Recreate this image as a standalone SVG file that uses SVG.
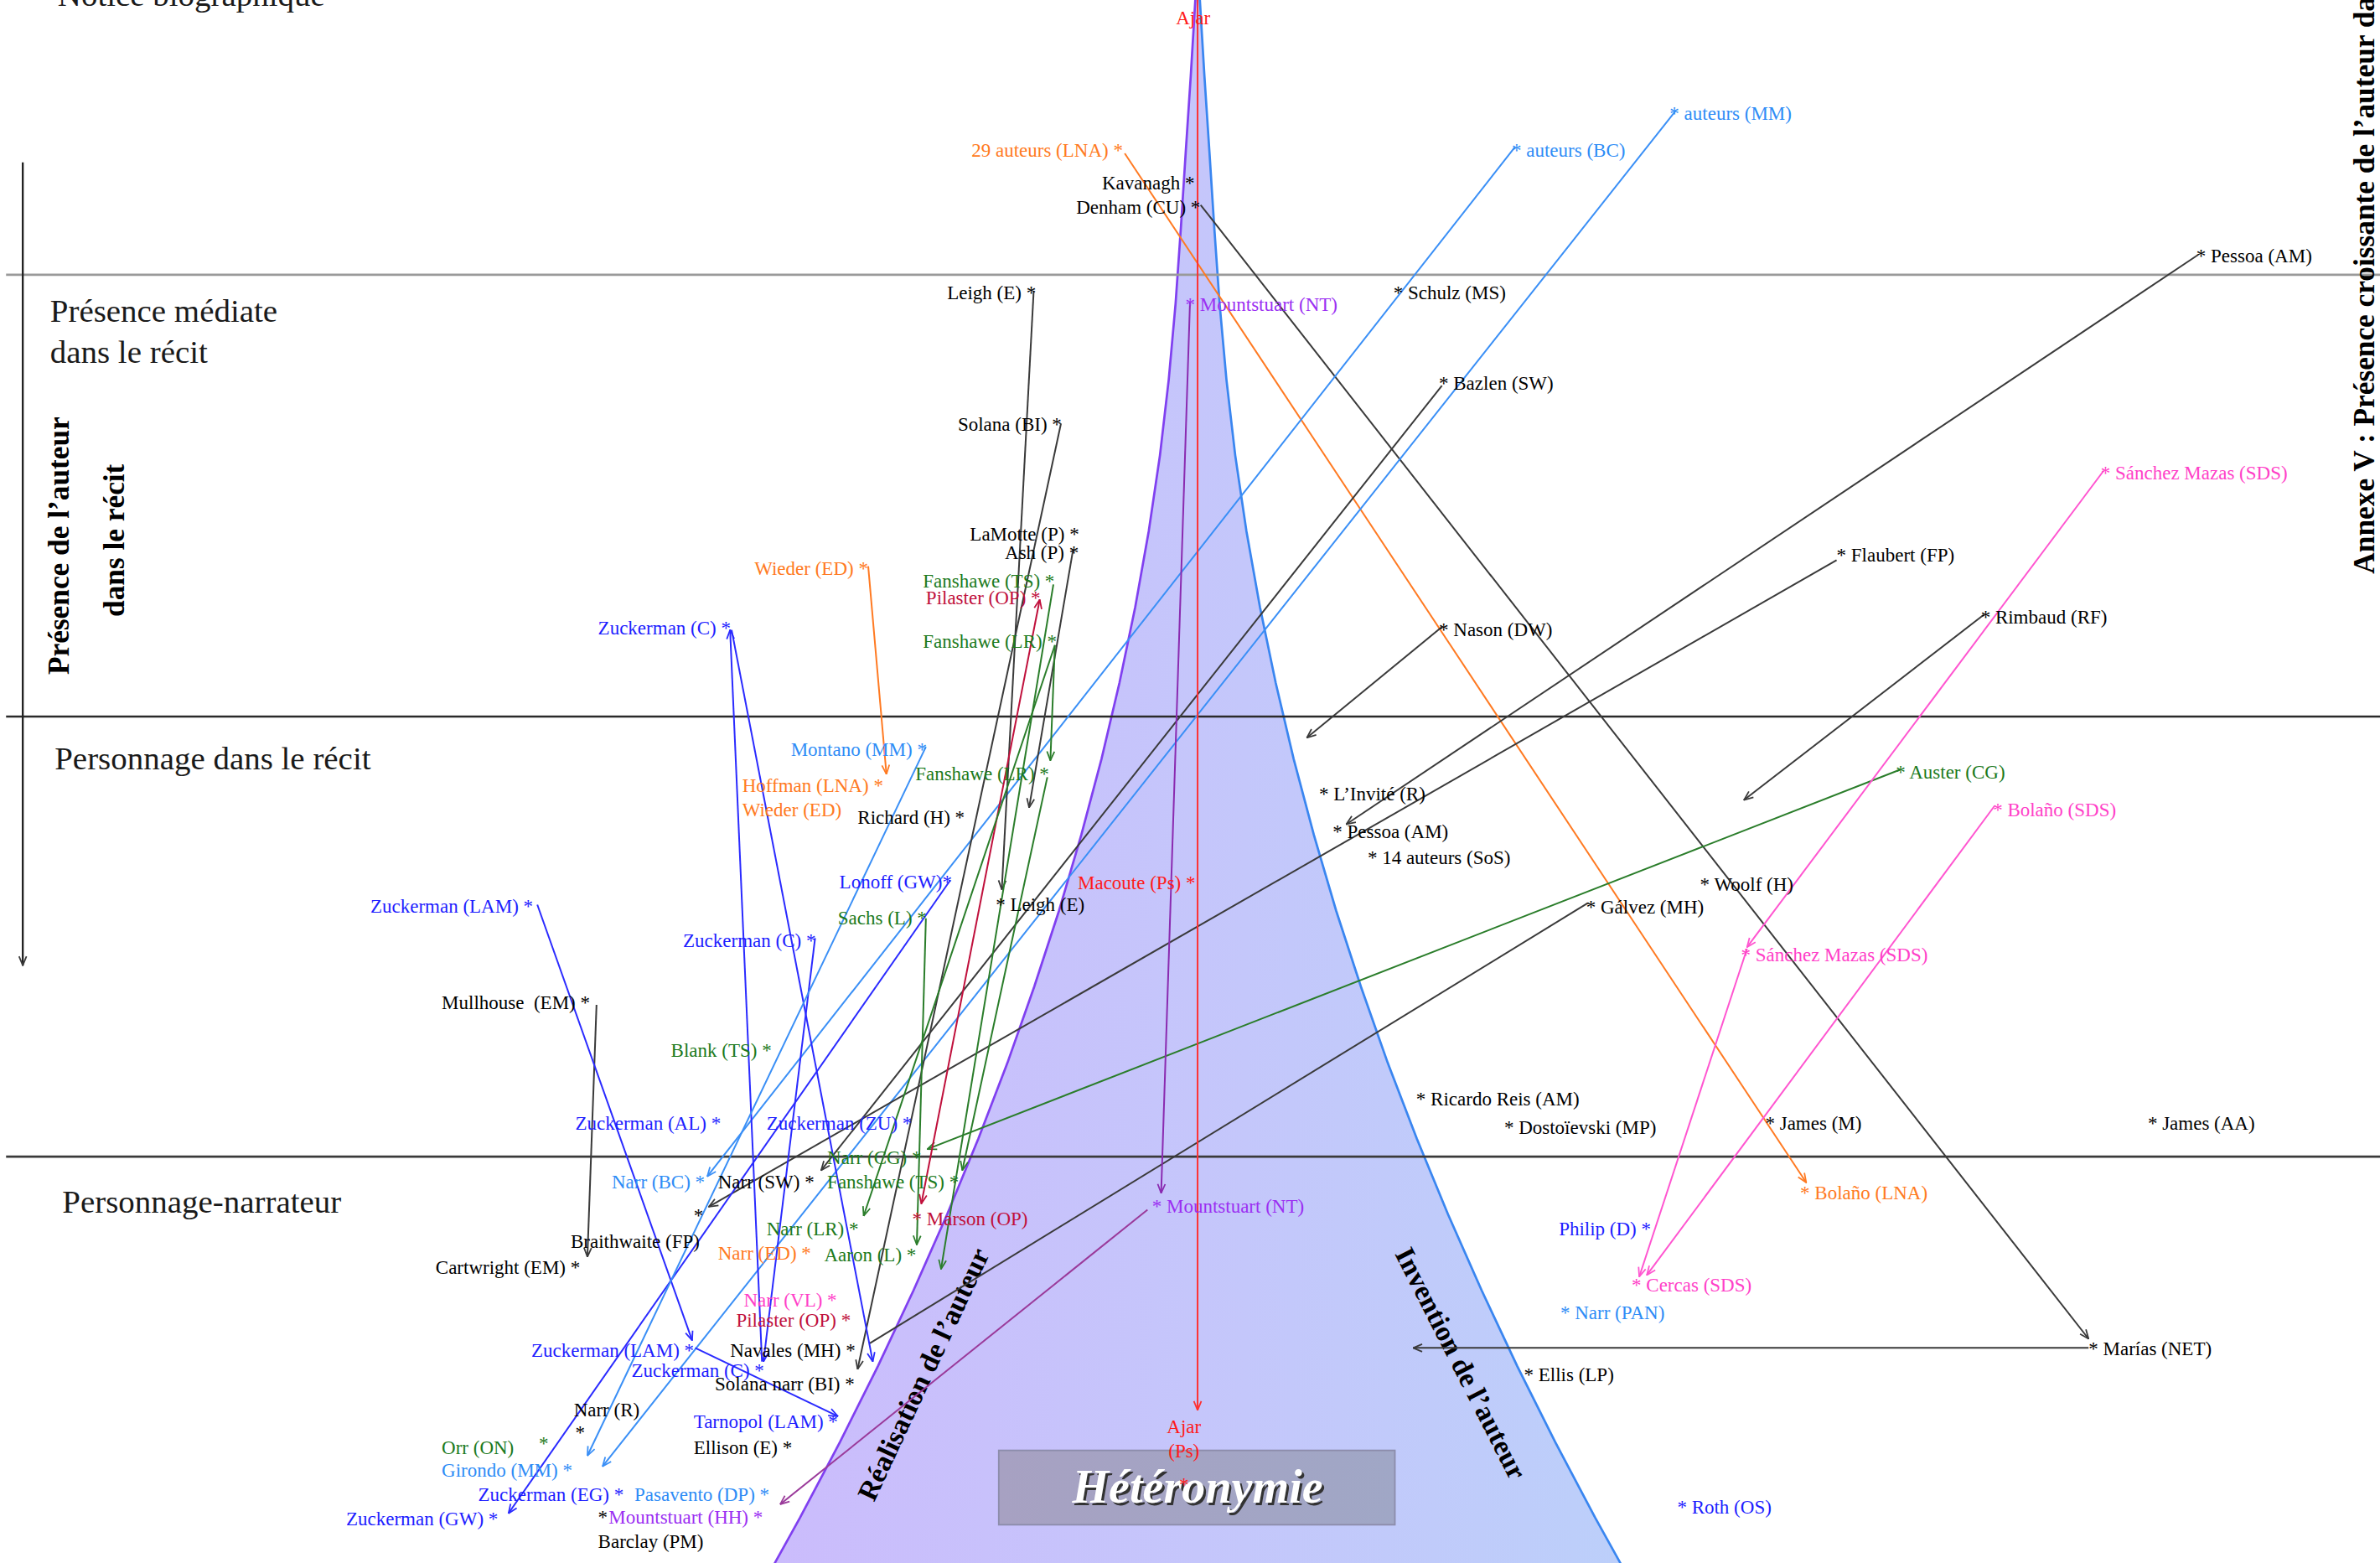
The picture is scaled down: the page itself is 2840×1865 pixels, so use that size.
<svg xmlns="http://www.w3.org/2000/svg" width="2840" height="1865" viewBox="0 0 2840 1865">
<style>
.t{font-family:"Liberation Serif","Times New Roman",serif;font-size:12.7px}
.sec{font-family:"Liberation Serif","Times New Roman",serif;font-size:21.5px;fill:#1a1a1a}
.vt{font-family:"Liberation Serif","Times New Roman",serif;font-weight:bold;font-size:19.5px;fill:#000}
.ob{font-family:"Liberation Serif","Times New Roman",serif;font-weight:bold;font-size:18.6px;fill:#000}
.het{font-family:"Liberation Serif","Times New Roman",serif;font-weight:bold;font-style:italic;font-size:31px}
.k{fill:#000}.or{fill:#ff7a22}.lb{fill:#2e8cf6}.bl{fill:#1d1dff}.gr{fill:#1c7a1c}.pk{fill:#ff3fc8}.pu{fill:#9b2ff2}.cr{fill:#c0103c}.rd{fill:#ff1a1a}
.c{fill:none;stroke-width:1.1}
.sk{stroke:#3a3a3a}.so{stroke:#ff7a22}.slb{stroke:#3a8ff6}.sbl{stroke:#2a2aff}.sg{stroke:#2a7d2a}.sp{stroke:#ff55d0}.spu{stroke:#8a2ab0}.spu2{stroke:#9a3a9a}.sr{stroke:#ff3030}.scr{stroke:#c0103c}
</style>
<defs>
<linearGradient id="cone" gradientUnits="userSpaceOnUse" x1="510" y1="0" x2="1068" y2="0">
<stop offset="0" stop-color="#cbbcfc"/><stop offset="0.5" stop-color="#c5c6fb"/><stop offset="1" stop-color="#bccffa"/>
</linearGradient>
<linearGradient id="box" x1="0" y1="0" x2="1" y2="0">
<stop offset="0" stop-color="#a7a1c2"/><stop offset="1" stop-color="#a0a7c6"/>
</linearGradient>
<marker id="ak" viewBox="0 0 10 10" refX="9.5" refY="5" markerWidth="7" markerHeight="7" markerUnits="userSpaceOnUse" orient="auto-start-reverse"><path d="M1,1.5 L9.5,5 L1,8.5" fill="none" stroke="#3a3a3a" stroke-width="1.4"/></marker>
<marker id="ao" viewBox="0 0 10 10" refX="9.5" refY="5" markerWidth="7" markerHeight="7" markerUnits="userSpaceOnUse" orient="auto-start-reverse"><path d="M1,1.5 L9.5,5 L1,8.5" fill="none" stroke="#ff7a22" stroke-width="1.4"/></marker>
<marker id="alb" viewBox="0 0 10 10" refX="9.5" refY="5" markerWidth="7" markerHeight="7" markerUnits="userSpaceOnUse" orient="auto-start-reverse"><path d="M1,1.5 L9.5,5 L1,8.5" fill="none" stroke="#3a8ff6" stroke-width="1.4"/></marker>
<marker id="abl" viewBox="0 0 10 10" refX="9.5" refY="5" markerWidth="7" markerHeight="7" markerUnits="userSpaceOnUse" orient="auto-start-reverse"><path d="M1,1.5 L9.5,5 L1,8.5" fill="none" stroke="#2a2aff" stroke-width="1.4"/></marker>
<marker id="ag" viewBox="0 0 10 10" refX="9.5" refY="5" markerWidth="7" markerHeight="7" markerUnits="userSpaceOnUse" orient="auto-start-reverse"><path d="M1,1.5 L9.5,5 L1,8.5" fill="none" stroke="#2a7d2a" stroke-width="1.4"/></marker>
<marker id="ap" viewBox="0 0 10 10" refX="9.5" refY="5" markerWidth="7" markerHeight="7" markerUnits="userSpaceOnUse" orient="auto-start-reverse"><path d="M1,1.5 L9.5,5 L1,8.5" fill="none" stroke="#ff55d0" stroke-width="1.4"/></marker>
<marker id="apu" viewBox="0 0 10 10" refX="9.5" refY="5" markerWidth="7" markerHeight="7" markerUnits="userSpaceOnUse" orient="auto-start-reverse"><path d="M1,1.5 L9.5,5 L1,8.5" fill="none" stroke="#8a2ab0" stroke-width="1.4"/></marker>
<marker id="apu2" viewBox="0 0 10 10" refX="9.5" refY="5" markerWidth="7" markerHeight="7" markerUnits="userSpaceOnUse" orient="auto-start-reverse"><path d="M1,1.5 L9.5,5 L1,8.5" fill="none" stroke="#9a3a9a" stroke-width="1.4"/></marker>
<marker id="ar" viewBox="0 0 10 10" refX="9.5" refY="5" markerWidth="7" markerHeight="7" markerUnits="userSpaceOnUse" orient="auto-start-reverse"><path d="M1,1.5 L9.5,5 L1,8.5" fill="none" stroke="#ff3030" stroke-width="1.4"/></marker>
<marker id="acr" viewBox="0 0 10 10" refX="9.5" refY="5" markerWidth="7" markerHeight="7" markerUnits="userSpaceOnUse" orient="auto-start-reverse"><path d="M1,1.5 L9.5,5 L1,8.5" fill="none" stroke="#c0103c" stroke-width="1.4"/></marker>
</defs>
<rect width="2840" height="1865" fill="#fff"/>
<g transform="scale(1.811224)">
<g id="cone-shape">
<polygon fill="url(#cone)" points="787.5,0 784.5,50 781.2,100 778,150 774.5,200 770,250 764.2,300 756.8,350 747.9,400 737.5,450 725.7,500 712.4,550 697.7,600 681.4,650 663.8,700 644.6,750 624,800 601.9,850 578.4,900 553.4,950 527,1000 510.3,1030 1067.7,1030 1051,1000 1024.6,950 999.6,900 976.1,850 954,800 933.4,750 914.2,700 896.6,650 880.3,600 865.6,550 852.3,500 840.5,450 830.1,400 821.2,350 813.8,300 808,250 803.5,200 800,150 796.8,100 793.5,50 790.5,0"/>
<polyline fill="none" stroke="#8040f0" stroke-width="1.5" points="787.5,0 784.5,50 781.2,100 778,150 774.5,200 770,250 764.2,300 756.8,350 747.9,400 737.5,450 725.7,500 712.4,550 697.7,600 681.4,650 663.8,700 644.6,750 624,800 601.9,850 578.4,900 553.4,950 527,1000 510.3,1030"/>
<polyline fill="none" stroke="#3a86f0" stroke-width="1.5" points="790.5,0 793.5,50 796.8,100 800,150 803.5,200 808,250 813.8,300 821.2,350 830.1,400 840.5,450 852.3,500 865.6,550 880.3,600 896.6,650 914.2,700 933.4,750 954,800 976.1,850 999.6,900 1024.6,950 1051,1000 1067.7,1030"/>
</g>
<g id="grid">
<line x1="4" y1="181" x2="1568" y2="181" stroke="#9a9a9a" stroke-width="1.6"/>
<line x1="4" y1="472" x2="1568" y2="472" stroke="#2a2a2a" stroke-width="1.4"/>
<line x1="4" y1="762" x2="1568" y2="762" stroke="#3a3a3a" stroke-width="1.6"/>
<line x1="15" y1="107" x2="15" y2="636" stroke="#222" stroke-width="1.3" marker-end="url(#ak)"/>
</g>
<g id="heteronymie">
<rect x="658" y="955.5" width="261" height="49" fill="url(#box)" stroke="#8c8cab" stroke-width="1"/>
<text class="het" x="790.5" y="991.5" text-anchor="middle" fill="#333">Hétéronymie</text>
<text class="het" x="789" y="990" text-anchor="middle" fill="#fff">Hétéronymie</text>
</g>
<g id="labels">
<text class="sec" x="38" y="4">Notice biographique</text>
<text class="sec" x="33" y="212">Présence médiate</text>
<text class="sec" x="33" y="239">dans le récit</text>
<text class="sec" x="36" y="507">Personnage dans le récit</text>
<text class="sec" x="41" y="799">Personnage-narrateur</text>
<text class="vt" transform="translate(45.5,359.5) rotate(-90)" text-anchor="middle">Présence de l’auteur</text>
<text class="vt" transform="translate(81.5,356) rotate(-90)" text-anchor="middle">dans le récit</text>
<text class="vt" transform="translate(1564,378) rotate(-90)">Annexe V : Présence croissante de l’auteur dans</text>
<text class="ob" transform="translate(614,908) rotate(-65)" text-anchor="middle">Réalisation de l’auteur</text>
<text class="ob" transform="translate(957,901) rotate(63)" text-anchor="middle">Invention de l’auteur</text>
</g>
<g id="connectors">
<path class="c so" d="M741,101 L1190,779" marker-end="url(#ao)"/>
<path class="c sk" d="M791,135 L1376,882" marker-end="url(#ak)"/>
<path class="c slb" d="M998,97 L466,775" marker-end="url(#alb)"/>
<path class="c slb" d="M1104,73 L397,966" marker-end="url(#alb)"/>
<path class="c sk" d="M1448,168 L887,543" marker-end="url(#ak)"/>
<path class="c sk" d="M1210,369 L467,795" marker-end="url(#ak)"/>
<path class="c sk" d="M950,254 L541,771" marker-end="url(#ak)"/>
<path class="c sk" d="M950,413 L861,486" marker-end="url(#ak)"/>
<path class="c sk" d="M1307,405 L1149,527" marker-end="url(#ak)"/>
<path class="c sk" d="M1046,595 L573,885"/>
<path class="c sk" d="M1376,888 L931,888" marker-end="url(#ak)"/>
<path class="c sk" d="M681,192 L660,586" marker-end="url(#ak)"/>
<path class="c sk" d="M699,279 L565,902" marker-end="url(#ak)"/>
<path class="c sk" d="M707,362 L678,532" marker-end="url(#ak)"/>
<path class="c sk" d="M393,662 L387,828" marker-end="url(#ak)"/>
<path class="c so" d="M572,373 L584,510" marker-end="url(#ao)"/>
<path class="c sg" d="M1252,507 L611,757" marker-end="url(#ag)"/>
<path class="c sp" d="M1386,310 L1151,624" marker-end="url(#ap)"/>
<path class="c sp" d="M1151,625 L1080,841" marker-end="url(#ap)"/>
<path class="c sp" d="M1314,531 L1085,840" marker-end="url(#ap)"/>
<path class="c spu" d="M784,199 L765,786" marker-end="url(#apu)"/>
<path class="c spu2" d="M756,797 L514,991" marker-end="url(#apu2)"/>
<path class="c sr" d="M789,0 L789,929" marker-end="url(#ar)"/>
<path class="c scr" d="M685,395 L607,793" marker-start="url(#acr)" marker-end="url(#acr)"/>
<path class="c sbl" d="M354,596 L456,883" marker-end="url(#abl)"/>
<path class="c sbl" d="M458,888 L552,933" marker-end="url(#abl)"/>
<path class="c sbl" d="M502,897 L481,415" marker-end="url(#abl)"/>
<path class="c sbl" d="M482,415 L575,897" marker-end="url(#abl)"/>
<path class="c sbl" d="M537,618 L503,897" marker-end="url(#abl)"/>
<path class="c sbl" d="M626,580 L335,997" marker-end="url(#abl)"/>
<path class="c slb" d="M610,492 L387,959" marker-end="url(#alb)"/>
<path class="c sg" d="M694,385 L620,836" marker-end="url(#ag)"/>
<path class="c sg" d="M695,425 L692,501" marker-end="url(#ag)"/>
<path class="c sg" d="M695,425 L569,801" marker-end="url(#ag)"/>
<path class="c sg" d="M690,512 L634,771" marker-end="url(#ag)"/>
<path class="c sg" d="M610,605 L604,820" marker-end="url(#ag)"/>
</g>
<g id="n-ajar-top"><text class="t rd" x="786" y="16" text-anchor="middle">Ajar</text></g>
<g id="n-29auteurs"><text class="t or" x="640" y="103">29 auteurs (LNA) *</text></g>
<g id="n-auteurs-bc"><text class="t lb" x="996" y="103">* auteurs (BC)</text></g>
<g id="n-auteurs-mm"><text class="t lb" x="1100" y="79">* auteurs (MM)</text></g>
<g id="n-kavanagh"><text class="t k" x="726" y="125">Kavanagh *</text></g>
<g id="n-denham"><text class="t k" x="709" y="141">Denham (CU) *</text></g>
<g id="n-pessoa-1"><text class="t k" x="1447" y="173">* Pessoa (AM)</text></g>
<g id="n-leigh-1"><text class="t k" x="624" y="197">Leigh (E) *</text></g>
<g id="n-mountstuart-nt-1"><text class="t pu" x="781" y="205">* Mountstuart (NT)</text></g>
<g id="n-schulz"><text class="t k" x="918" y="197">* Schulz (MS)</text></g>
<g id="n-bazlen"><text class="t k" x="948" y="257">* Bazlen (SW)</text></g>
<g id="n-solana"><text class="t k" x="631" y="284">Solana (BI) *</text></g>
<g id="n-sanchez-1"><text class="t pk" x="1384" y="316">* Sánchez Mazas (SDS)</text></g>
<g id="n-lamotte"><text class="t k" x="639" y="356">LaMotte (P) *</text></g>
<g id="n-ash"><text class="t k" x="662" y="368">Ash (P) *</text></g>
<g id="n-flaubert"><text class="t k" x="1210" y="370">* Flaubert (FP)</text></g>
<g id="n-wieder-1"><text class="t or" x="497" y="379">Wieder (ED) *</text></g>
<g id="n-fanshawe-ts-1"><text class="t gr" x="608" y="387">Fanshawe (TS) *</text></g>
<g id="n-pilaster-1"><text class="t cr" x="610" y="398">Pilaster (OP) *</text></g>
<g id="n-rimbaud"><text class="t k" x="1305" y="411">* Rimbaud (RF)</text></g>
<g id="n-zuckerman-c-1"><text class="t bl" x="394" y="418">Zuckerman (C) *</text></g>
<g id="n-nason"><text class="t k" x="948" y="419">* Nason (DW)</text></g>
<g id="n-fanshawe-lr-1"><text class="t gr" x="608" y="427">Fanshawe (LR) *</text></g>
<g id="n-montano"><text class="t lb" x="521" y="498">Montano (MM) *</text></g>
<g id="n-fanshawe-lr-2"><text class="t gr" x="603" y="514">Fanshawe (LR) *</text></g>
<g id="n-auster"><text class="t gr" x="1249" y="513">* Auster (CG)</text></g>
<g id="n-hoffman"><text class="t or" x="489" y="522">Hoffman (LNA) *</text></g>
<g id="n-invite"><text class="t k" x="869" y="527">* L’Invité (R)</text></g>
<g id="n-wieder-2"><text class="t or" x="489" y="538">Wieder (ED)</text></g>
<g id="n-bolano-sds"><text class="t pk" x="1313" y="538">* Bolaño (SDS)</text></g>
<g id="n-richard"><text class="t k" x="565" y="543">Richard (H) *</text></g>
<g id="n-pessoa-2"><text class="t k" x="878" y="552">* Pessoa (AM)</text></g>
<g id="n-14auteurs"><text class="t k" x="901" y="569">* 14 auteurs (SoS)</text></g>
<g id="n-lonoff"><text class="t bl" x="553" y="585">Lonoff (GW)*</text></g>
<g id="n-macoute"><text class="t rd" x="710" y="586">Macoute (Ps) *</text></g>
<g id="n-woolf"><text class="t k" x="1120" y="587">* Woolf (H)</text></g>
<g id="n-zuckerman-lam-1"><text class="t bl" x="244" y="601">Zuckerman (LAM) *</text></g>
<g id="n-leigh-2"><text class="t k" x="656" y="600">* Leigh (E)</text></g>
<g id="n-galvez"><text class="t k" x="1045" y="602">* Gálvez (MH)</text></g>
<g id="n-sachs"><text class="t gr" x="552" y="609">Sachs (L) *</text></g>
<g id="n-zuckerman-c-2"><text class="t bl" x="450" y="624">Zuckerman (C) *</text></g>
<g id="n-sanchez-2"><text class="t pk" x="1147" y="633">* Sánchez Mazas (SDS)</text></g>
<g id="n-mullhouse"><text class="t k" x="291" y="665" xml:space="preserve">Mullhouse  (EM) *</text></g>
<g id="n-blank"><text class="t gr" x="442" y="696">Blank (TS) *</text></g>
<g id="n-ricardo"><text class="t k" x="933" y="728">* Ricardo Reis (AM)</text></g>
<g id="n-zuckerman-al"><text class="t bl" x="379" y="744">Zuckerman (AL) *</text></g>
<g id="n-zuckerman-zu"><text class="t bl" x="505" y="744">Zuckerman (ZU) *</text></g>
<g id="n-james-m"><text class="t k" x="1163" y="744">* James (M)</text></g>
<g id="n-james-aa"><text class="t k" x="1415" y="744">* James (AA)</text></g>
<g id="n-dostoievski"><text class="t k" x="991" y="747">* Dostoïevski (MP)</text></g>
<g id="n-narr-cg"><text class="t gr" x="545" y="767">Narr (CG) *</text></g>
<g id="n-narr-bc"><text class="t lb" x="403" y="783">Narr (BC) *</text></g>
<g id="n-narr-sw"><text class="t k" x="473" y="783">Narr (SW) *</text></g>
<g id="n-fanshawe-ts-2"><text class="t gr" x="545" y="783">Fanshawe (TS) *</text></g>
<g id="n-bolano-lna"><text class="t or" x="1186" y="790">* Bolaño (LNA)</text></g>
<g id="n-mountstuart-nt-2"><text class="t pu" x="759" y="799">* Mountstuart (NT)</text></g>
<g id="n-star-fp"><text class="t k" x="457" y="805">*</text></g>
<g id="n-marson"><text class="t cr" x="601" y="807">* Marson (OP)</text></g>
<g id="n-philip"><text class="t bl" x="1027" y="814">Philip (D) *</text></g>
<g id="n-narr-lr"><text class="t gr" x="505" y="814">Narr (LR) *</text></g>
<g id="n-braithwaite"><text class="t k" x="376" y="822">Braithwaite (FP)</text></g>
<g id="n-narr-ed"><text class="t or" x="473" y="830">Narr (ED) *</text></g>
<g id="n-aaron"><text class="t gr" x="543" y="831">Aaron (L) *</text></g>
<g id="n-cartwright"><text class="t k" x="287" y="839">Cartwright (EM) *</text></g>
<g id="n-cercas"><text class="t pk" x="1075" y="851">* Cercas (SDS)</text></g>
<g id="n-narr-vl"><text class="t pk" x="490" y="861">Narr (VL) *</text></g>
<g id="n-narr-pan"><text class="t lb" x="1028" y="869">* Narr (PAN)</text></g>
<g id="n-pilaster-2"><text class="t cr" x="485" y="874">Pilaster (OP) *</text></g>
<g id="n-zuckerman-lam-2"><text class="t bl" x="350" y="894">Zuckerman (LAM) *</text></g>
<g id="n-navales"><text class="t k" x="481" y="894">Navales (MH) *</text></g>
<g id="n-marias"><text class="t k" x="1376" y="893">* Marías (NET)</text></g>
<g id="n-zuckerman-c-3"><text class="t bl" x="416" y="907">Zuckerman (C) *</text></g>
<g id="n-ellis"><text class="t k" x="1004" y="910">* Ellis (LP)</text></g>
<g id="n-solana-narr"><text class="t k" x="471" y="916">Solana narr (BI) *</text></g>
<g id="n-narr-r"><text class="t k" x="378" y="933">Narr (R)</text><text class="t k" x="379" y="948">*</text></g>
<g id="n-tarnopol"><text class="t bl" x="457" y="941">Tarnopol (LAM) *</text></g>
<g id="n-ajar-ps"><text class="t rd" x="780" y="944" text-anchor="middle">Ajar</text><text class="t rd" x="780" y="960" text-anchor="middle">(Ps)</text><text class="t rd" x="780" y="982" text-anchor="middle">*</text></g>
<g id="n-orr"><text class="t gr" x="291" y="958">Orr (ON)</text><text class="t gr" x="355" y="955">*</text></g>
<g id="n-ellison"><text class="t k" x="457" y="958">Ellison (E) *</text></g>
<g id="n-girondo"><text class="t lb" x="291" y="973">Girondo (MM) *</text></g>
<g id="n-zuckerman-eg"><text class="t bl" x="315" y="989">Zuckerman (EG) *</text></g>
<g id="n-pasavento"><text class="t lb" x="418" y="989">Pasavento (DP) *</text></g>
<g id="n-roth"><text class="t bl" x="1105" y="997">* Roth (OS)</text></g>
<g id="n-zuckerman-gw"><text class="t bl" x="228" y="1005">Zuckerman (GW) *</text></g>
<g id="n-mountstuart-hh"><text class="t k" x="394" y="1004">*</text><text class="t pu" x="401" y="1004">Mountstuart (HH) *</text></g>
<g id="n-barclay"><text class="t k" x="394" y="1020">Barclay (PM)</text></g>
</g>
</svg>
